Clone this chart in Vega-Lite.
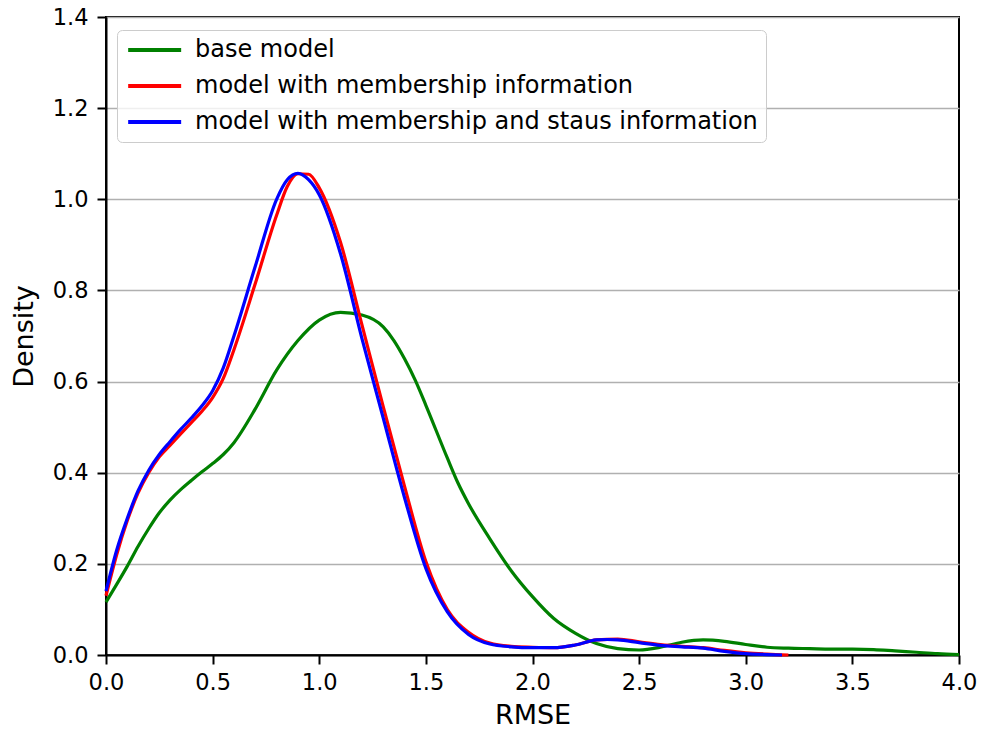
{
  "$schema": "https://vega.github.io/schema/vega-lite/v6.json",
  "width": 853,
  "height": 638,
  "autosize": {"type": "none"},
  "padding": {"left": 106, "top": 17, "right": 23, "bottom": 75},
  "background": "white",
  "config": {
    "font": "DejaVu Sans",
    "view": {"stroke": "black", "strokeWidth": 2},
    "axis": {
      "labelFont": "DejaVu Sans",
      "titleFont": "DejaVu Sans",
      "labelFontSize": 22.5,
      "titleFontSize": 27,
      "titleFontWeight": "normal",
      "labelColor": "#000000",
      "titleColor": "#000000",
      "domainColor": "#000000",
      "domainWidth": 2,
      "tickColor": "#000000",
      "tickWidth": 2,
      "tickSize": 9
    }
  },
  "data": {"values": [
    {"s":"base model","x":0.0,"y":0.116},{"s":"base model","x":0.05,"y":0.155},{"s":"base model","x":0.1,"y":0.195},{"s":"base model","x":0.15,"y":0.238},{"s":"base model","x":0.2,"y":0.277},{"s":"base model","x":0.25,"y":0.312},{"s":"base model","x":0.3,"y":0.34},{"s":"base model","x":0.35,"y":0.363},{"s":"base model","x":0.4,"y":0.383},{"s":"base model","x":0.45,"y":0.402},{"s":"base model","x":0.5,"y":0.42},{"s":"base model","x":0.55,"y":0.44},{"s":"base model","x":0.6,"y":0.466},{"s":"base model","x":0.7,"y":0.54},{"s":"base model","x":0.8,"y":0.625},{"s":"base model","x":0.9,"y":0.69},{"s":"base model","x":1.0,"y":0.735},{"s":"base model","x":1.1,"y":0.752},{"s":"base model","x":1.2,"y":0.746},{"s":"base model","x":1.3,"y":0.72},{"s":"base model","x":1.35,"y":0.69},{"s":"base model","x":1.4,"y":0.65},{"s":"base model","x":1.45,"y":0.603},{"s":"base model","x":1.5,"y":0.548},{"s":"base model","x":1.6,"y":0.433},{"s":"base model","x":1.65,"y":0.378},{"s":"base model","x":1.7,"y":0.332},{"s":"base model","x":1.8,"y":0.255},{"s":"base model","x":1.9,"y":0.185},{"s":"base model","x":2.0,"y":0.128},{"s":"base model","x":2.1,"y":0.08},{"s":"base model","x":2.2,"y":0.048},{"s":"base model","x":2.3,"y":0.025},{"s":"base model","x":2.4,"y":0.014},{"s":"base model","x":2.5,"y":0.011},{"s":"base model","x":2.6,"y":0.017},{"s":"base model","x":2.7,"y":0.028},{"s":"base model","x":2.8,"y":0.033},{"s":"base model","x":2.9,"y":0.03},{"s":"base model","x":3.0,"y":0.023},{"s":"base model","x":3.1,"y":0.017},{"s":"base model","x":3.2,"y":0.015},{"s":"base model","x":3.3,"y":0.014},{"s":"base model","x":3.4,"y":0.013},{"s":"base model","x":3.5,"y":0.013},{"s":"base model","x":3.6,"y":0.012},{"s":"base model","x":3.7,"y":0.009},{"s":"base model","x":3.8,"y":0.006},{"s":"base model","x":3.9,"y":0.003},{"s":"base model","x":4.0,"y":0.001},

    {"s":"model with membership information","x":0.0,"y":0.13},{"s":"model with membership information","x":0.05,"y":0.22},{"s":"model with membership information","x":0.1,"y":0.295},{"s":"model with membership information","x":0.15,"y":0.355},{"s":"model with membership information","x":0.2,"y":0.4},{"s":"model with membership information","x":0.25,"y":0.435},{"s":"model with membership information","x":0.3,"y":0.46},{"s":"model with membership information","x":0.35,"y":0.485},{"s":"model with membership information","x":0.4,"y":0.51},{"s":"model with membership information","x":0.45,"y":0.535},{"s":"model with membership information","x":0.5,"y":0.565},{"s":"model with membership information","x":0.55,"y":0.607},{"s":"model with membership information","x":0.6,"y":0.67},{"s":"model with membership information","x":0.7,"y":0.815},{"s":"model with membership information","x":0.8,"y":0.965},{"s":"model with membership information","x":0.85,"y":1.028},{"s":"model with membership information","x":0.9,"y":1.056},{"s":"model with membership information","x":0.95,"y":1.055},{"s":"model with membership information","x":1.0,"y":1.025},{"s":"model with membership information","x":1.1,"y":0.905},{"s":"model with membership information","x":1.2,"y":0.725},{"s":"model with membership information","x":1.3,"y":0.545},{"s":"model with membership information","x":1.4,"y":0.37},{"s":"model with membership information","x":1.5,"y":0.205},{"s":"model with membership information","x":1.6,"y":0.1},{"s":"model with membership information","x":1.7,"y":0.05},{"s":"model with membership information","x":1.8,"y":0.026},{"s":"model with membership information","x":1.9,"y":0.019},{"s":"model with membership information","x":2.0,"y":0.017},{"s":"model with membership information","x":2.1,"y":0.016},{"s":"model with membership information","x":2.2,"y":0.022},{"s":"model with membership information","x":2.3,"y":0.033},{"s":"model with membership information","x":2.4,"y":0.035},{"s":"model with membership information","x":2.5,"y":0.029},{"s":"model with membership information","x":2.6,"y":0.023},{"s":"model with membership information","x":2.7,"y":0.019},{"s":"model with membership information","x":2.8,"y":0.016},{"s":"model with membership information","x":2.9,"y":0.01},{"s":"model with membership information","x":3.0,"y":0.005},{"s":"model with membership information","x":3.1,"y":0.002},{"s":"model with membership information","x":3.2,"y":0.0},

    {"s":"model with membership and staus information","x":0.0,"y":0.14},{"s":"model with membership and staus information","x":0.05,"y":0.23},{"s":"model with membership and staus information","x":0.1,"y":0.3},{"s":"model with membership and staus information","x":0.15,"y":0.36},{"s":"model with membership and staus information","x":0.2,"y":0.405},{"s":"model with membership and staus information","x":0.25,"y":0.44},{"s":"model with membership and staus information","x":0.3,"y":0.468},{"s":"model with membership and staus information","x":0.35,"y":0.495},{"s":"model with membership and staus information","x":0.4,"y":0.52},{"s":"model with membership and staus information","x":0.45,"y":0.547},{"s":"model with membership and staus information","x":0.5,"y":0.58},{"s":"model with membership and staus information","x":0.55,"y":0.63},{"s":"model with membership and staus information","x":0.6,"y":0.7},{"s":"model with membership and staus information","x":0.7,"y":0.853},{"s":"model with membership and staus information","x":0.8,"y":1.0},{"s":"model with membership and staus information","x":0.85,"y":1.043},{"s":"model with membership and staus information","x":0.9,"y":1.057},{"s":"model with membership and staus information","x":0.95,"y":1.043},{"s":"model with membership and staus information","x":1.0,"y":1.01},{"s":"model with membership and staus information","x":1.1,"y":0.88},{"s":"model with membership and staus information","x":1.2,"y":0.695},{"s":"model with membership and staus information","x":1.3,"y":0.52},{"s":"model with membership and staus information","x":1.4,"y":0.345},{"s":"model with membership and staus information","x":1.5,"y":0.19},{"s":"model with membership and staus information","x":1.6,"y":0.095},{"s":"model with membership and staus information","x":1.7,"y":0.045},{"s":"model with membership and staus information","x":1.8,"y":0.024},{"s":"model with membership and staus information","x":1.9,"y":0.018},{"s":"model with membership and staus information","x":2.0,"y":0.016},{"s":"model with membership and staus information","x":2.1,"y":0.016},{"s":"model with membership and staus information","x":2.2,"y":0.022},{"s":"model with membership and staus information","x":2.3,"y":0.033},{"s":"model with membership and staus information","x":2.35,"y":0.034},{"s":"model with membership and staus information","x":2.4,"y":0.033},{"s":"model with membership and staus information","x":2.5,"y":0.027},{"s":"model with membership and staus information","x":2.6,"y":0.021},{"s":"model with membership and staus information","x":2.7,"y":0.018},{"s":"model with membership and staus information","x":2.8,"y":0.015},{"s":"model with membership and staus information","x":2.9,"y":0.008},{"s":"model with membership and staus information","x":3.0,"y":0.003},{"s":"model with membership and staus information","x":3.1,"y":0.001},{"s":"model with membership and staus information","x":3.17,"y":0.0}
  ]},
  "encoding": {
    "x": {"field": "x", "type": "quantitative",
      "scale": {"domain": [0, 4], "nice": false, "zero": false},
      "axis": {"title": "RMSE", "values": [0,0.5,1,1.5,2,2.5,3,3.5,4], "format": ".1f", "grid": false, "labelPadding": 7, "titlePadding": 9, "labelFlush": false}},
    "y": {"field": "y", "type": "quantitative",
      "scale": {"domain": [0, 1.4], "nice": false},
      "axis": {"title": "Density", "values": [0,0.2,0.4,0.6,0.8,1,1.2,1.4], "format": ".1f", "grid": true, "gridColor": "#b0b0b0", "gridWidth": 1.6, "labelPadding": 9, "titlePadding": 14, "labelFlush": false}},
    "color": {"field": "s", "type": "nominal",
      "scale": {"domain": ["base model", "model with membership information", "model with membership and staus information"], "range": ["#008000", "#ff0000", "#0000ff"]},
      "legend": {"title": null, "orient": "none", "legendX": 11, "legendY": 13,
        "symbolType": "M-1,0H5", "symbolSize": 312, "symbolStrokeWidth": 4,
        "labelFontSize": 24, "labelFont": "DejaVu Sans", "labelColor": "#000000", "labelOffset": 46,
        "rowPadding": 12, "padding": 8, "fillColor": "rgba(255,255,255,0.8)", "strokeColor": "#cccccc", "cornerRadius": 5, "labelLimit": 1000}}
  },
  "layer": [
    {"transform": [{"filter": "datum.s === 'base model'"}], "mark": {"type": "line", "strokeWidth": 3.2, "interpolate": "monotone"}},
    {"transform": [{"filter": "datum.s === 'model with membership information'"}], "mark": {"type": "line", "strokeWidth": 3.2, "interpolate": "monotone"}},
    {"transform": [{"filter": "datum.s === 'model with membership and staus information'"}], "mark": {"type": "line", "strokeWidth": 3.2, "interpolate": "monotone"}}
  ]
}
